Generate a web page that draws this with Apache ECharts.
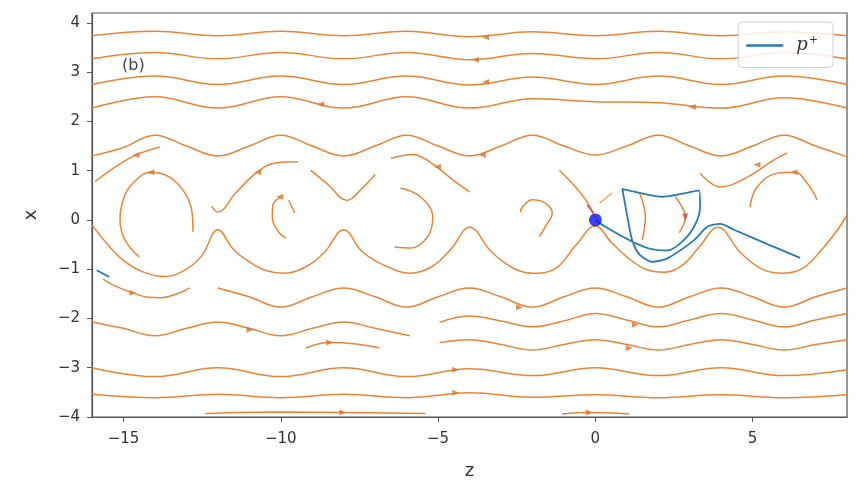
<!DOCTYPE html>
<html><head><meta charset="utf-8">
<script src="https://cdn.jsdelivr.net/npm/echarts@6/dist/echarts.min.js"></script>
<style>html,body{margin:0;padding:0;background:#fff}#c{width:857px;height:488px}</style>
</head><body><div id="c"></div>
<script>
// axis ticks
const zTicks = [-15, -10, -5, 0, 5];
const xTicks = [-4, -3, -2, -1, 0, 1, 2, 3, 4];

// ---- streamlines, points are [z, x] ----
const upper1 = [[-16,3.74],[-14,3.83],[-12,3.74],[-10,3.83],[-8,3.74],[-6,3.83],[-4,3.72],[-2,3.82],[0,3.74],[2,3.83],[4,3.74],[6,3.82],[8,3.74]];
const upper2 = [[-16,3.27],[-14,3.40],[-12,3.27],[-10,3.40],[-8,3.27],[-6,3.40],[-4,3.25],[-2,3.38],[0,3.27],[2,3.40],[4,3.27],[6,3.40],[8,3.27]];
const upper3 = [[-16,2.75],[-14,2.92],[-12,2.75],[-10,2.92],[-8,2.75],[-6,2.92],[-4,2.74],[-2,2.90],[0,2.75],[2,2.92],[4,2.75],[6,2.92],[8,2.75]];
const upper4 = [[-16,2.27],[-14,2.50],[-12,2.27],[-10,2.50],[-8,2.27],[-6,2.50],[-4,2.27],[-2,2.46],[0,2.40],[2,2.38],[4,2.27],[6,2.48],[8,2.27]];
const upper5 = [[-16,1.30],[-15,1.47],[-14,1.72],[-13,1.50],[-12,1.30],[-11,1.50],[-10,1.72],[-9,1.50],[-8,1.30],[-7,1.50],[-6,1.72],[-5,1.50],[-4,1.30],[-3,1.50],[-2,1.72],[-1,1.50],[0,1.32],[1,1.50],[2,1.72],[3,1.50],[4,1.30],[5,1.50],[6,1.72],[7,1.50],[8,1.28]];

const lower1a = [[-15.65,-1.20],[-15.2,-1.36],[-14.7,-1.48],[-14.2,-1.57],[-13.84,-1.58],[-13.3,-1.50],[-12.89,-1.38]];
const lower1b = [[-12,-1.38],[-11,-1.56],[-10,-1.77],[-9,-1.56],[-8,-1.38],[-7,-1.56],[-6,-1.77],[-5,-1.56],[-4,-1.38],[-3,-1.56],[-2,-1.77],[-1,-1.56],[0,-1.38],[1,-1.56],[2,-1.77],[3,-1.56],[4,-1.38],[5,-1.56],[6,-1.77],[7,-1.56],[8,-1.38]];
const lower2a = [[-16,-2.07],[-15,-2.20],[-14,-2.35],[-13,-2.20],[-12,-2.07],[-11,-2.20],[-10,-2.35],[-9,-2.20],[-8,-2.07],[-7,-2.20],[-5.9,-2.35]];
const lower2b = [[-4.95,-2.08],[-4,-1.95],[-3,-2.05],[-2,-2.17],[-1,-2.05],[0,-1.90],[1,-2.03],[2,-2.17],[3,-2.03],[4,-1.90],[5,-2.03],[6,-2.17],[7,-2.03],[8,-1.90]];
const lower3a = [[-9.2,-2.60],[-8.44,-2.49],[-7.6,-2.52],[-6.86,-2.60]];
const lower3b = [[-4.95,-2.49],[-4,-2.43],[-3,-2.53],[-2,-2.64],[-1,-2.53],[0,-2.43],[1,-2.53],[2,-2.64],[3,-2.53],[4,-2.43],[5,-2.53],[6,-2.64],[7,-2.53],[8,-2.43]];
const lower4 = [[-16,-3.00],[-14,-3.18],[-12,-3.00],[-10,-3.18],[-8,-3.00],[-6,-3.18],[-4,-3.02],[-2,-3.16],[0,-3.00],[2,-3.16],[4,-3.00],[6,-3.16],[8,-3.04]];
const lower5 = [[-16,-3.54],[-14,-3.61],[-12,-3.54],[-10,-3.61],[-8,-3.54],[-6,-3.61],[-4,-3.51],[-2,-3.60],[0,-3.55],[2,-3.61],[4,-3.55],[6,-3.61],[8,-3.55]];
const lower6a = [[-12.4,-3.93],[-10,-3.90],[-8,-3.91],[-5.4,-3.93]];
const lower6b = [[-1.05,-3.94],[-0.19,-3.91],[1.07,-3.94]];

// separatrix chain below the islands
const sepLow = [[-16,-0.10],[-15.5,-0.50],[-15,-0.82],[-14.4,-1.05],[-13.7,-1.15],[-13,-1.00],[-12.5,-0.72],[-12,-0.20],
  [-11.5,-0.60],[-11,-0.85],[-10.5,-1.02],[-9.9,-1.08],[-9.2,-0.95],[-8.6,-0.65],[-8,-0.20],
  [-7.4,-0.65],[-6.6,-0.95],[-5.9,-1.08],[-5.2,-0.95],[-4.6,-0.60],[-4,-0.15],
  [-3.3,-0.65],[-2.6,-0.98],[-2.0,-1.08],[-1.3,-1.00],[-0.6,-0.50],[0,-0.12],
  [0.5,-0.45],[1.0,-0.75],[1.6,-1.00],[2.2,-1.06],[2.8,-0.90],[3.3,-0.55],[3.9,-0.15],
  [4.6,-0.65],[5.3,-1.00],[6.0,-1.08],[6.6,-0.98],[7.2,-0.60],[7.7,-0.20],[8,0.10]];
// pieces above the islands
const sepUpA = [[-15.9,0.78],[-15.2,1.10],[-14.6,1.32],[-13.84,1.48]];
const sepUpB = [[-12.2,0.28],[-12.0,0.16],[-11.43,0.55],[-10.79,0.95],[-10.2,1.15],[-9.46,1.18]];
const sepUpC = [[-9.05,1.01],[-8.5,0.72],[-7.9,0.40],[-7.4,0.65],[-7.0,0.92]];
const sepUpD = [[-6.5,1.25],[-5.8,1.33],[-5.2,1.15],[-4.6,0.85],[-4.0,0.57]];
const sepUpE = [[-1.14,1.01],[-0.6,0.65],[-0.3,0.40],[0,0.04]];
const sepUpF = [[0.13,0.34],[0.54,0.55]];
const sepUpG = [[3.33,0.95],[3.97,0.67],[4.83,0.87],[5.68,1.22],[6.1,1.36]];
// island arcs
const island1 = [[-14.5,-0.75],[-14.95,-0.41],[-15.11,0],[-14.95,0.51],[-14.6,0.81],[-14.13,0.97],[-13.59,0.89],[-13.11,0.61],[-12.83,0.2],[-12.79,-0.24]];
const island2a = [[-10.0,0.47],[-10.25,0.30],[-10.27,0.06],[-10.05,-0.26],[-9.82,-0.37]];
const island2b = [[-9.75,0.40],[-9.55,0.14]];
const island3 = [[-6.19,0.65],[-5.56,0.47],[-5.17,0.06],[-5.33,-0.34],[-5.87,-0.57],[-6.38,-0.55]];
const island4 = [[-2.38,0.16],[-2.32,0.26],[-2.0,0.41],[-1.59,0.34],[-1.37,0.14],[-1.59,-0.14],[-1.78,-0.34]];
const island5a = [[1.4,0.55],[1.59,0.06],[1.49,-0.41]];
const island5b = [[2.54,0.47],[2.86,0.06],[2.67,-0.26]];
const island6 = [[4.92,0.26],[5.14,0.67],[5.78,0.95],[6.32,0.97],[6.73,0.75],[7.05,0.41]];
const redBit = [[-0.25,0.30],[-0.06,0.14]];

// arrow heads
const arrowsLeft = [[-3.49,3.71],[-3.81,3.25],[-3.49,2.80],[-8.73,2.35],[3.08,2.29],[-3.59,1.32],[-14.6,1.32],[-10.73,0.97],[-5.02,1.08],[5.14,1.12],[-14.13,0.97],[-10.03,0.47],[6.32,0.97]];
const arrowsRight = [[-14.7,-1.48],[-2.41,-1.77],[-10.98,-2.23],[1.27,-2.13],[-8.44,-2.49],[1.08,-2.60],[-4.44,-3.04],[-4.44,-3.51],[-8.03,-3.91],[-0.19,-3.91]];
const arrowsRed = [[2.86,0.06]];

// trajectory p+
const pPlusName = 'p+';
const pPlus = [[0,0],[0.32,-0.14],[1.08,-0.41],[1.71,-0.58],[2.3,-0.62],[2.92,-0.34],[3.24,0],[3.33,0.26],[3.3,0.6],[2.13,0.47],[1.4,0.55],[0.86,0.63],[0.95,0.3],[1.02,0.06],[1.17,-0.41],[1.4,-0.7],[1.8,-0.85],[2.29,-0.78],[3.14,-0.41],[3.56,-0.14],[3.97,-0.08],[4.41,-0.2],[5.5,-0.5],[6.51,-0.77]];
const pPlusEdge = [[-15.85,-1.02],[-15.45,-1.16]];
const startPoint = [[0,0]];

const streams = [upper1,upper2,upper3,upper4,upper5,lower1a,lower1b,lower2a,lower2b,lower3a,lower3b,lower4,lower5,lower6a,lower6b,
  sepLow,sepUpA,sepUpB,sepUpC,sepUpD,sepUpE,sepUpG,island1,island2a,island2b,island3,island4,island5a,island5b,island6];

const ORANGE = '#ea8434';
const series = streams.map(d => ({
  type: 'line', data: d, smooth: 0.4, symbol: 'none', silent: true,
  lineStyle: { color: ORANGE, width: 1.5 }, z: 2
}));
series.push({ type:'line', data: sepUpF, symbol:'none', silent:true, lineStyle:{color:'#f3b060', width:1.5}, z:2 });
series.push({ type:'line', data: redBit, symbol:'none', silent:true, lineStyle:{color:'#e0403a', width:1.5}, z:2 });
series.push({ type:'scatter', data: arrowsLeft, symbol:'triangle', symbolSize:[6,7], symbolRotate:90, silent:true, itemStyle:{color:'#d8742a'}, z:3 });
series.push({ type:'scatter', data: arrowsRight, symbol:'triangle', symbolSize:[6,7], symbolRotate:-90, silent:true, itemStyle:{color:'#d8742a'}, z:3 });
series.push({ type:'scatter', data: arrowsRed, symbol:'triangle', symbolSize:[6,7], symbolRotate:180, silent:true, itemStyle:{color:'#e0403a'}, z:3 });
series.push({ name: pPlusName, type:'line', data: pPlus, smooth: 0.25, symbol:'none', silent:true, lineStyle:{color:'#2a7ab6', width:1.8}, itemStyle:{color:'#2a7ab6'}, z:4 });
series.push({ type:'line', data: pPlusEdge, symbol:'none', silent:true, lineStyle:{color:'#2a7ab6', width:1.8}, z:4 });
series.push({ type:'scatter', data: startPoint, symbol:'circle', symbolSize:13, silent:true, itemStyle:{color:'#0a14e6'}, z:5 });

const chart = echarts.init(document.getElementById('c'), null, {renderer:'canvas'});
chart.setOption({
  animation: false,
  backgroundColor: '#fff',
  title: { text: '(b)', left: 122, top: 58, padding: 0, textStyle: { fontSize: 16, fontWeight: 'normal', color: '#444', fontFamily: 'DejaVu Sans' } },
  grid: { left: 92, right: 10, top: 13, bottom: 71, show: true, borderColor: '#555', borderWidth: 1.2, backgroundColor: 'transparent' },
  legend: {
    data: [pPlusName], right: 24, top: 22, orient: 'vertical',
    backgroundColor: 'rgba(255,255,255,0.85)', borderColor: '#d0d0d0', borderWidth: 1, borderRadius: 4,
    padding: [13, 15, 13, 8], itemWidth: 37, itemHeight: 2.5, itemGap: 0, icon: 'rect',
    formatter: () => '{p|p}{s|+}',
    textStyle: { rich: {
      p: { fontSize: 18, fontStyle: 'italic', fontFamily: 'DejaVu Serif', color: '#333', padding: [0, 0, 0, 8] },
      s: { fontSize: 11, color: '#333', fontFamily: 'DejaVu Sans', padding: [0, 0, 10, 1] }
    } }
  },
  xAxis: {
    type: 'value', min: -16, max: 8,
    name: 'z', nameLocation: 'middle', nameGap: 45,
    nameTextStyle: { fontSize: 18, color: '#333', fontFamily: 'DejaVu Sans' },
    axisLine: { show: true, onZero: false, lineStyle: { color: '#555', width: 1.2 } },
    axisTick: { show: true, length: 5, customValues: zTicks, lineStyle: { color: '#555' } },
    axisLabel: { customValues: zTicks, margin: 15, fontSize: 15, color: '#333', fontFamily: 'DejaVu Sans', formatter: v => String(v).replace('-', '\u2212') },
    splitLine: { show: false }
  },
  yAxis: {
    type: 'value', min: -4, max: 4.2,
    name: 'x', nameLocation: 'middle', nameGap: 52, nameRotate: 90,
    nameTextStyle: { fontSize: 18, color: '#333', fontFamily: 'DejaVu Sans' },
    axisLine: { show: true, onZero: false, lineStyle: { color: '#555', width: 1.2 } },
    axisTick: { show: true, length: 5, customValues: xTicks, lineStyle: { color: '#555' } },
    axisLabel: { customValues: xTicks, margin: 12, fontSize: 15, color: '#333', fontFamily: 'DejaVu Sans', formatter: v => String(v).replace('-', '\u2212') },
    splitLine: { show: false }
  },
  series: series
});
</script>
</body></html>
